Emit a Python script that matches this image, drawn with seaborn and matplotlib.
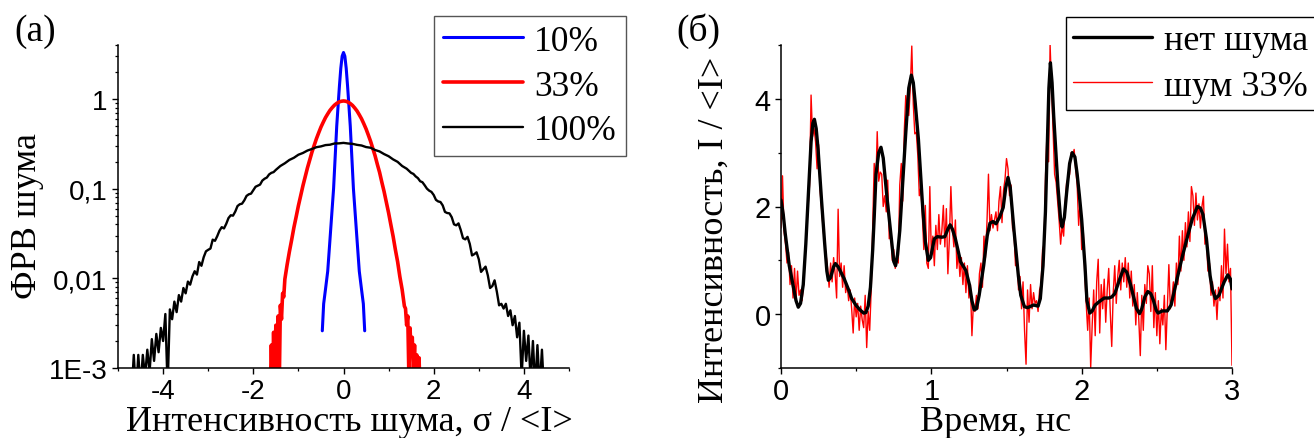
import numpy as np
import pandas as pd
import matplotlib
matplotlib.use("Agg")
import matplotlib.pyplot as plt
import seaborn as sns
from matplotlib.ticker import (FixedLocator, FixedFormatter, LogLocator,
                               NullFormatter, MultipleLocator)

# ---------------- data: panel (а) — noise PDFs ----------------
noise_x_10 = [-0.47, -0.44, -0.40, -0.35, -0.30, -0.26, -0.22, -0.19, -0.15, -0.11,
              -0.09, -0.06, -0.03, 0.00, 0.03, 0.06, 0.09, 0.11, 0.15, 0.19,
              0.22, 0.26, 0.30, 0.35, 0.40, 0.44, 0.47]
noise_pdf_10 = [0.0026, 0.0052, 0.0075, 0.012, 0.027, 0.052, 0.10, 0.20, 0.50, 1.0,
                1.4, 2.2, 3.0, 3.3, 3.0, 2.2, 1.4, 1.0, 0.50, 0.20,
                0.10, 0.052, 0.027, 0.012, 0.0075, 0.0052, 0.0026]

noise_x_33 = [-1.625, -1.600, -1.575, -1.550, -1.525, -1.500, -1.475, -1.450, -1.425, -1.400,
              -1.375, -1.350, -1.325, -1.300, -1.25, -1.20, -1.15, -1.10, -1.05, -1.00,
              -0.95, -0.90, -0.85, -0.80, -0.75, -0.70, -0.65, -0.60, -0.55, -0.50,
              -0.45, -0.40, -0.35, -0.30, -0.25, -0.20, -0.15, -0.10, -0.05, 0.00,
              0.05, 0.10, 0.15, 0.20, 0.25, 0.30, 0.35, 0.40, 0.45, 0.50,
              0.55, 0.60, 0.65, 0.70, 0.75, 0.80, 0.85, 0.90, 0.95, 1.00,
              1.05, 1.10, 1.15, 1.20, 1.25, 1.30, 1.35, 1.375, 1.400, 1.425,
              1.450, 1.475, 1.500, 1.525, 1.550, 1.575, 1.600, 1.625, 1.650, 1.675,
              1.700]
noise_pdf_33 = [0.0005, 0.0018, 0.0006, 0.0025, 0.0008, 0.0030, 0.0012, 0.0038, 0.0006, 0.0050,
                0.0035, 0.0068, 0.0062, 0.0098, 0.0142, 0.0198, 0.0268, 0.0368, 0.0485, 0.0645,
                0.0832, 0.1075, 0.1352, 0.170, 0.208, 0.255, 0.304, 0.361, 0.420, 0.486,
                0.550, 0.619, 0.682, 0.747, 0.802, 0.854, 0.894, 0.926, 0.943, 0.951,
                0.944, 0.923, 0.890, 0.848, 0.793, 0.735, 0.667, 0.601, 0.530, 0.464,
                0.397, 0.338, 0.281, 0.233, 0.187, 0.152, 0.118, 0.0928, 0.0705, 0.0537,
                0.0396, 0.0294, 0.0209, 0.0153, 0.0104, 0.0075, 0.0049, 0.0046, 0.0030, 0.0038,
                0.0008, 0.0028, 0.0015, 0.0022, 0.0009, 0.0018, 0.0006, 0.0014, 0.0005, 0.0013,
                0.0005]

# histogram bin centres of the 100 % curve (finer bins in the tails)
noise_x_100 = list(np.round(np.concatenate([
    np.arange(-4.70, -1.50, 0.05),
    np.arange(-1.50, 1.45, 0.10),
    np.arange(1.50, 4.46, 0.05)]), 3))
noise_pdf_100 = [
    # -4.70 ... -3.40
    0.0005, 0.0014, 0.0005, 0.0014, 0.0006, 0.0014, 0.0008, 0.0016, 0.0009, 0.0021,
    0.0012, 0.0024, 0.0015, 0.0028, 0.0020, 0.0040, 0.0006, 0.0045, 0.0035, 0.0055,
    0.0042, 0.0065, 0.0055, 0.0078, 0.0068, 0.0092, 0.0085,
    # -3.35 ... -1.55
    0.0105, 0.0120, 0.0110, 0.0152, 0.0138, 0.0172, 0.0200, 0.0208, 0.0215, 0.0270,
    0.0262, 0.0295, 0.0340, 0.0372, 0.0360, 0.0405, 0.0470, 0.0505, 0.0500, 0.0555,
    0.0640, 0.0670, 0.0680, 0.0740, 0.0830, 0.0865, 0.0880, 0.0960, 0.1050, 0.1080,
    0.1110, 0.1230, 0.1290, 0.1330, 0.1440, 0.1500, 0.1530,
    # -1.5 ... 1.4
    0.1620, 0.1790, 0.1920, 0.2090, 0.2210, 0.2390, 0.2500, 0.2660, 0.2770, 0.2900,
    0.2960, 0.3060, 0.3090, 0.3190, 0.3200, 0.3240, 0.3190, 0.3160, 0.3080, 0.3030,
    0.2910, 0.2860, 0.2700, 0.2600, 0.2430, 0.2300, 0.2120, 0.1990, 0.1790, 0.1670,
    # 1.50 ... 3.50
    0.150, 0.146, 0.137, 0.131, 0.121, 0.118, 0.109, 0.100, 0.095, 0.092,
    0.085, 0.075, 0.072, 0.071, 0.065, 0.055, 0.0535, 0.053, 0.048, 0.040,
    0.039, 0.041, 0.0345, 0.028, 0.0272, 0.029, 0.0242, 0.018, 0.0186, 0.0195,
    0.0163, 0.0118, 0.0126, 0.0135, 0.0108, 0.0078, 0.0082, 0.0095, 0.0071, 0.0050,
    0.0052,
    # 3.55 ... 4.45
    0.0046, 0.0052, 0.0038, 0.0044, 0.0030, 0.0038, 0.0022, 0.0032, 0.0008, 0.0026,
    0.0012, 0.0023, 0.0007, 0.0020, 0.0006, 0.0018, 0.0006, 0.0016, 0.0005]

pdf_labels = ["10%", "33%", "100%"]
pdf_colors = ["#0000ff", "#ff0000", "#000000"]

# ---------------- data: panel (б) — intensity vs time ----------------
clean_t = [0.000, 0.015, 0.028, 0.055, 0.083, 0.100, 0.115, 0.130, 0.148, 0.165,
           0.180, 0.200, 0.212, 0.222, 0.234, 0.247, 0.270, 0.290, 0.305, 0.315,
           0.330, 0.350, 0.362, 0.380, 0.420, 0.450, 0.470, 0.500, 0.525, 0.550,
           0.565, 0.580, 0.595, 0.610, 0.620, 0.632, 0.650, 0.665, 0.680, 0.706,
           0.734, 0.750, 0.762, 0.775, 0.790, 0.803, 0.830, 0.850, 0.867, 0.880,
           0.892, 0.914, 0.942, 0.960, 0.980, 0.995, 1.020, 1.040, 1.070, 1.090,
           1.110, 1.125, 1.140, 1.160, 1.180, 1.195, 1.230, 1.254, 1.270, 1.285,
           1.300, 1.318, 1.348, 1.372, 1.390, 1.410, 1.430, 1.454, 1.478, 1.495,
           1.510, 1.525, 1.551, 1.579, 1.595, 1.619, 1.640, 1.680, 1.710, 1.725,
           1.743, 1.759, 1.770, 1.782, 1.792, 1.803, 1.814, 1.842, 1.860, 1.870,
           1.885, 1.900, 1.920, 1.937, 1.955, 1.970, 1.985, 2.000, 2.022, 2.035,
           2.054, 2.070, 2.090, 2.120, 2.150, 2.180, 2.200, 2.220, 2.254, 2.278,
           2.300, 2.325, 2.348, 2.365, 2.385, 2.400, 2.420, 2.440, 2.460, 2.478,
           2.495, 2.508, 2.536, 2.570, 2.595, 2.630, 2.666, 2.700, 2.736, 2.770,
           2.790, 2.807, 2.830, 2.854, 2.870, 2.890, 2.913, 2.948, 2.972, 2.990,
           3.000]
clean_I = [2.12, 1.85, 1.50, 0.90, 0.50, 0.25, 0.13, 0.20, 0.55, 1.30,
           2.10, 3.20, 3.55, 3.62, 3.45, 3.05, 2.10, 1.33, 0.80, 0.63,
           0.68, 0.88, 0.94, 0.88, 0.66, 0.45, 0.29, 0.16, 0.08, 0.02,
           0.03, 0.15, 0.50, 1.20, 1.80, 2.60, 3.00, 3.10, 2.90, 2.14,
           1.39, 0.98, 0.90, 1.10, 1.55, 2.14, 3.37, 4.20, 4.44, 4.30,
           3.95, 3.25, 2.00, 1.35, 1.00, 1.05, 1.40, 1.44, 1.43, 1.44,
           1.58, 1.66, 1.58, 1.40, 1.15, 0.97, 0.81, 0.54, 0.25, 0.08,
           0.10, 0.35, 0.90, 1.46, 1.69, 1.72, 1.68, 1.80, 1.98, 2.35,
           2.54, 2.35, 1.52, 0.71, 0.35, 0.14, 0.12, 0.17, 0.15, 0.29,
           0.90, 1.90, 3.00, 4.20, 4.67, 4.30, 3.68, 2.38, 1.75, 1.62,
           1.80, 2.26, 2.80, 3.00, 2.92, 2.60, 2.20, 1.76, 0.90, 0.25,
           0.02, 0.06, 0.17, 0.24, 0.30, 0.30, 0.32, 0.38, 0.66, 0.84,
           0.78, 0.55, 0.29, 0.10, 0.01, 0.10, 0.32, 0.42, 0.38, 0.25,
           0.08, 0.02, 0.06, 0.06, 0.17, 0.60, 1.03, 1.40, 1.77, 2.00,
           1.97, 1.85, 1.40, 0.72, 0.45, 0.29, 0.35, 0.60, 0.73, 0.65,
           0.47]

noisy_t = [round(0.01 * k, 2) for k in range(301)]  # sampling grid of the noisy trace
noisy_I = [1.60, 2.57, 1.55, 1.30, 0.95, 1.15, 0.55, 0.90, 0.30, 0.85,
           0.25, 0.80, 0.35, 0.45, 0.25, 0.55, 1.10, 1.55, 2.00, 2.40,
           4.07, 3.30, 3.45, 3.20, 2.70, 3.15, 2.30, 1.95, 1.60, 1.30,
           1.10, 0.85, 0.50, 0.95, 0.60, 1.05, 0.75, 0.30, 1.95, 0.70,
           0.95, 0.50, 0.90, 0.40, 0.55, 0.25, 0.45, 0.10, -0.35, 0.30,
           -0.05, 0.20, -0.30, 0.15, -0.10, -0.25, 0.35, -0.62, 0.05, -0.30,
           0.45, 1.60, 2.80, 2.30, 3.39, 2.47, 2.64, 2.60, 2.00, 2.20,
           1.90, 2.49, 1.40, 1.55, 1.00, 1.20, 0.85, 1.10, 0.95, 2.40,
           2.80, 2.10, 3.40, 4.06, 3.80, 3.69, 4.20, 4.98, 3.90, 3.35,
           3.38, 2.95, 2.20, 2.35, 1.85, 1.20, 2.02, 0.95, 0.85, 2.37,
           1.10, 1.45, 0.90, 1.65, 1.20, 1.85, 1.30, 1.55, 2.02, 1.25,
           1.96, 0.75, 1.40, 2.37, 1.60, 1.25, 1.75, 0.85, 1.15, 0.70,
           1.05, 0.55, 0.95, 0.40, 0.90, 0.30, 0.55, -0.40, 0.20, 0.05,
           0.35, 0.10, 0.75, 0.95, 0.50, 1.45, 1.05, 1.70, 2.60, 1.55,
           1.85, 1.60, 1.75, 1.90, 1.55, 2.10, 2.37, 1.70, 2.30, 2.50,
           2.89, 2.70, 2.20, 2.40, 1.60, 1.50, 0.90, 1.05, 0.45, 0.70,
           0.10, 0.60, -0.30, -0.93, 0.45, -0.15, 0.55, 0.10, 0.40, 0.20,
           0.25, 0.05, 0.45, 0.55, 1.20, 1.30, 2.60, 3.42, 2.83, 5.00,
           4.20, 3.40, 2.60, 2.45, 2.10, 1.75, 1.30, 1.65, 1.45, 2.05,
           2.45, 2.52, 2.60, 3.00, 2.95, 3.06, 2.70, 2.40, 1.65, 2.10,
           1.20, 1.60, 0.80, 0.20, -0.30, 0.30, -0.99, -0.20, 0.45, -0.40,
           0.60, 1.02, -0.35, 0.55, 0.10, 0.65, -0.15, 0.45, 0.85, 0.05,
           -0.60, 0.40, 0.90, 0.20, 0.70, 1.00, 0.45, 0.95, 0.60, 1.05,
           0.50, 0.95, 0.30, 0.80, 0.15, 0.55, -0.20, 0.40, -0.10, -0.77,
           0.35, -0.30, 0.55, 0.20, 0.90, 0.75, 0.05, 0.90, -0.25, 0.40,
           -0.40, 0.25, -0.55, 0.10, -0.20, 0.35, -0.66, 0.15, 0.92, 0.10,
           0.30, 0.60, 0.15, 0.95, 0.55, 1.45, 0.80, 1.55, 1.00, 1.70,
           1.25, 1.90, 1.35, 2.37, 2.20, 1.65, 2.25, 1.75, 2.05, 1.60,
           2.00, 2.19, 1.30, 1.40, 0.80, 0.95, 0.35, 0.60, 0.15, 0.45,
           -0.10, 0.50, 0.25, 0.90, 0.30, 1.58, 0.75, 1.30, 0.60, 0.85,
           -0.95]

trace_labels = ["нет шума", "шум 33%"]

# ---------------- styling ----------------
sns.set_theme(style="ticks")
SERIF = ["Liberation Serif", "DejaVu Serif"]
SANS = ["Liberation Sans", "DejaVu Sans"]
plt.rcParams.update({
    "font.family": SANS,
    "axes.edgecolor": "black",
    "axes.labelcolor": "black",
    "text.color": "black",
    "xtick.color": "black",
    "ytick.color": "black",
    "axes.linewidth": 1.1,
    "axes.unicode_minus": False,
})

W, H = 1314, 439
fig = plt.figure(figsize=(W / 100, H / 100), dpi=100)
fig.patch.set_facecolor("white")
ax1 = fig.add_axes([118 / W, (H - 369) / H, 451 / W, 323 / H])
ax2 = fig.add_axes([781 / W, (H - 369) / H, 451 / W, 323 / H])

# ---- panel (а)
ax1.set_yscale("log")
pdf_sets = [(noise_x_10, noise_pdf_10, 2.2), (noise_x_33, noise_pdf_33, 2.6),
            (noise_x_100, noise_pdf_100, 1.7)]
for (xs, ys, lw), lab, col in zip(pdf_sets, pdf_labels, pdf_colors):
    df = pd.DataFrame({"x": xs, "y": ys})
    sns.lineplot(data=df, x="x", y="y", ax=ax1, color=col, lw=lw, sort=False,
                 estimator=None, label=lab)
ax1.set_xlim(-5, 5)
ax1.set_ylim(1e-3, 4)
ax1.xaxis.set_major_locator(MultipleLocator(2))
ax1.xaxis.set_minor_locator(MultipleLocator(1))
ax1.yaxis.set_major_locator(FixedLocator([1e-3, 1e-2, 1e-1, 1]))
ax1.yaxis.set_major_formatter(FixedFormatter(["1E-3", "0,01", "0,1", "1"]))
ax1.yaxis.set_minor_locator(LogLocator(base=10, subs=np.arange(2, 10)))
ax1.yaxis.set_minor_formatter(NullFormatter())

# ---- panel (б)
df_clean = pd.DataFrame({"t": clean_t, "I": clean_I})
df_noisy = pd.DataFrame({"t": noisy_t, "I": noisy_I})
sns.lineplot(data=df_noisy, x="t", y="I", ax=ax2, color="#ff0000", lw=1.0,
             sort=False, estimator=None, label=trace_labels[1], zorder=2)
sns.lineplot(data=df_clean, x="t", y="I", ax=ax2, color="black", lw=2.4,
             sort=False, estimator=None, label=trace_labels[0], zorder=3)
ax2.set_xlim(0, 3)
ax2.set_ylim(-1, 5)
ax2.xaxis.set_major_locator(MultipleLocator(1))
ax2.xaxis.set_minor_locator(MultipleLocator(0.5))
ax2.yaxis.set_major_locator(MultipleLocator(2))
ax2.yaxis.set_minor_locator(MultipleLocator(1))

for ax in (ax1, ax2):
    sns.despine(ax=ax)
    ax.tick_params(which="major", direction="out", length=4.5, width=1.0, pad=3)
    ax.tick_params(which="minor", direction="out", length=2.5, width=0.9)
    ax.set_facecolor("white")
    ax.grid(False)

ax1.tick_params(axis="both", which="major", labelsize=20)
ax2.tick_params(axis="y", which="major", labelsize=21)
ax2.tick_params(axis="x", which="major", labelsize=21, pad=2)

# axis labels
ax1.set_xlabel("Интенсивность шума, σ / <I>", fontfamily=SERIF, fontsize=26, va="baseline")
ax1.xaxis.set_label_coords(0.512, (369 - 431) / 323)
ax1.set_ylabel("ФРВ шума", fontfamily=SERIF, fontsize=26, va="center")
ax1.yaxis.set_label_coords((27 - 118) / 451, (369 - 216) / 323)

ax2.set_xlabel("Время, нс", fontfamily=SERIF, fontsize=26, va="baseline")
ax2.xaxis.set_label_coords(0.475, (369 - 431) / 323)
ax2.set_ylabel("Интенсивность, I / <I>", fontfamily=SERIF, fontsize=26, va="center")
ax2.yaxis.set_label_coords((714 - 781) / 451, (369 - 230) / 323)

# panel letters
fig.text(14 / W, 1 - 41 / H, "(а)", fontfamily=SERIF, fontsize=27, va="baseline", ha="left")
fig.text(676 / W, 1 - 41 / H, "(б)", fontfamily=SERIF, fontsize=27, va="baseline", ha="left")

# legends
h1, l1 = ax1.get_legend_handles_labels()
leg1 = ax1.legend(h1, l1, loc="upper left", bbox_to_anchor=(434 / W, 1 - 17 / H),
                  bbox_transform=fig.transFigure, prop={"family": SERIF, "size": 25.5},
                  frameon=True, fancybox=False, framealpha=1, edgecolor="#555555",
                  borderaxespad=0, handlelength=2.25, handletextpad=0.33,
                  borderpad=0.25, labelspacing=0.33)
leg1.get_frame().set_linewidth(1.0)

h2, l2 = ax2.get_legend_handles_labels()
order = [l2.index(trace_labels[0]), l2.index(trace_labels[1])]
leg2 = ax2.legend([h2[i] for i in order], [l2[i] for i in order], loc="upper left",
                  bbox_to_anchor=(1066 / W, 1 - 18 / H), bbox_transform=fig.transFigure,
                  prop={"family": SERIF, "size": 26}, frameon=True, fancybox=False,
                  framealpha=1, edgecolor="black", borderaxespad=0, handlelength=2.17,
                  handletextpad=0.33, borderpad=0.2, labelspacing=0.34)
leg2.get_frame().set_linewidth(1.0)

fig.savefig("out.png", dpi=100, facecolor="white")
